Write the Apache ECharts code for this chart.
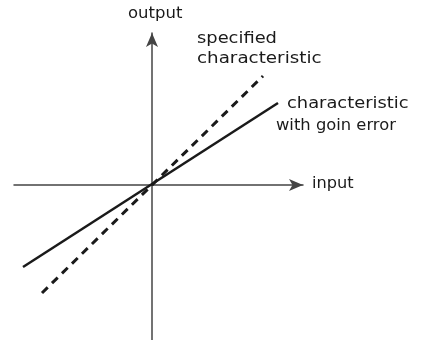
<!DOCTYPE html>
<html>
<head>
<meta charset="UTF-8">
<title>gain error</title>
<script type="text/javascript" src="https://cdn.jsdelivr.net/npm/echarts@6/dist/echarts.min.js"></script>
<style type="text/css">
body { margin: 0; background: #fff; }
#chart { width: 422px; height: 340px; }
</style>
</head>
<body>
<div id="chart"></div>
<script>
// data, 1 unit = 100 px on screen
var specifiedIn  = [-1.10, 1.11];
var specifiedOut = [-1.08, 1.09];
var gainErrIn    = [-1.29, 1.26];
var gainErrOut   = [-0.82, 0.82];
var xRange = [-1.38, 1.51];
var yRange = [-1.55, 1.52];

function pairs(xs, ys) {
	var out = [];
	for (var i = 0; i < xs.length; i++) out.push([xs[i], ys[i]]);
	return out;
}

var font = '15px "DejaVu Sans", sans-serif';
var txt = '#1a1a1a';

// label helper, sx stretches the text sideways (the lettering is wide)
function label(text, x, y, sx) {
	return { type: 'text', x: x, y: y, scaleX: sx, style: { text: text, font: font, fill: txt } };
}

var chart = echarts.init(document.getElementById('chart'));
var hiddenAxis = function (range) {
	return {
		type: 'value', min: range[0], max: range[1],
		splitLine: { show: false }, axisTick: { show: false }, axisLabel: { show: false },
		axisLine: {
			show: true, onZero: true,
			symbol: ['none', 'arrow'], symbolSize: [9, 14],
			lineStyle: { color: '#444', width: 1.5 }
		}
	};
};

option = {
	animation: false,
	grid: { left: 14, right: 119, top: 33, bottom: 0 },
	xAxis: hiddenAxis(xRange),
	yAxis: hiddenAxis(yRange),
	series: [
		{
			name: 'specified characteristic', type: 'line', symbol: 'none',
			data: pairs(specifiedIn, specifiedOut),
			lineStyle: { color: '#1a1a1a', width: 3, type: [8, 6] }
		},
		{
			name: 'characteristic with gain error', type: 'line', symbol: 'none',
			data: pairs(gainErrIn, gainErrOut),
			lineStyle: { color: '#1a1a1a', width: 2.5 }
		}
	],
	graphic: [
		label('output', 128, 7, 1.1),
		label('specified', 197, 32, 1.19),
		label('characteristic', 197, 52, 1.22),
		label('characteristic', 287, 97, 1.19),
		label('with goin error', 276, 119, 1.09),
		label('input', 312, 177, 1.08)
	]
};
chart.setOption(option);
</script>
</body>
</html>
